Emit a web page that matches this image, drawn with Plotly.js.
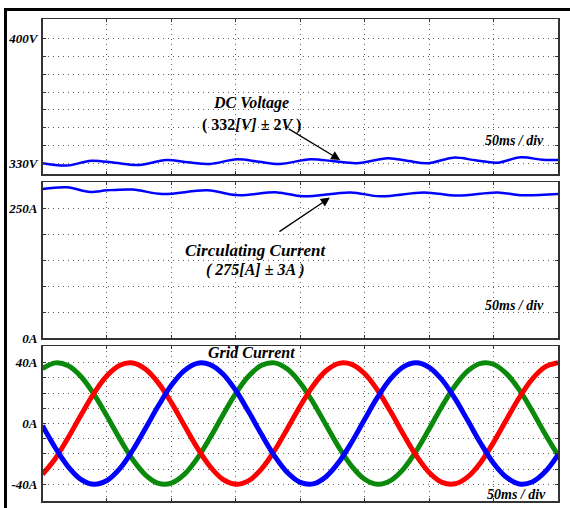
<!DOCTYPE html>
<html>
<head>
<meta charset="utf-8">
<script src="https://cdn.plot.ly/plotly-3.0.1.min.js"></script>
<style>html,body{margin:0;padding:0;background:#fff;}#chart{width:570px;height:508px;}</style>
</head>
<body>
<div id="chart"></div>
<script>
// ---- data ----
const dcTime = [0, 19, 38, 56, 75, 96, 113, 130, 151, 168, 184, 208, 226, 244, 268, 284, 299, 319, 336, 353, 371, 388, 400];
const dcVoltage = [330.4, 329.1, 331.8, 330.6, 329.4, 332.2, 330.9, 330.0, 332.6, 331.2, 330.0, 332.6, 331.5, 330.4, 333.2, 331.6, 330.4, 333.5, 332.0, 330.7, 333.7, 332.3, 332.2];

const ccTime = [0, 19, 37, 50, 70, 93, 128, 151, 182, 202, 239, 262, 296, 322, 353, 371, 400];
const ccCurrent = [286.7, 289.8, 280.9, 284.0, 285.4, 277.0, 284.0, 274.8, 280.0, 272.4, 280.0, 272.4, 280.0, 273.8, 280.0, 274.5, 277.0];

const gridTime = [0,10,20,30,40,50,60,70,80,90,100,110,120,130,140,150,160,170,180,190,200,210,220,230,240,250,260,270,280,290,300,310,320,330,340,350,360,370,380,390,400];
const phaseA = [-1.5,-16.1,-28.5,-36.9,-40.0,-37.5,-29.7,-17.6,-3.1,11.8,25.1,34.8,39.6,38.8,32.6,21.7,7.7,-7.3,-21.3,-32.3,-38.7,-39.7,-35.0,-25.4,-12.2,2.8,17.3,29.4,37.3,40.0,37.0,28.8,16.5,1.9,-13.0,-26.1,-35.4,-39.8,-38.5,-31.8,-20.6];
const phaseB = [-33.4,-23.0,-9.2,5.8,20.0,31.4,38.3,39.8,35.7,26.6,13.7,-1.2,-15.9,-28.3,-36.8,-40.0,-37.6,-29.8,-17.9,-3.4,11.5,24.9,34.7,39.6,38.9,32.7,21.9,8.0,-7.1,-21.1,-32.2,-38.7,-39.7,-35.1,-25.6,-12.4,2.5,17.1,29.2,37.2,40.0];
const phaseC = [36.1,39.9,38.0,30.8,19.2,4.9,-10.1,-23.7,-33.9,-39.4,-39.2,-33.5,-23.1,-9.4,5.6,19.8,31.2,38.3,39.9,35.8,26.7,13.8,-1.0,-15.7,-28.2,-36.7,-40.0,-37.6,-30.0,-18.1,-3.6,11.4,24.7,34.6,39.6,39.0,32.8,22.1,8.2,-6.9,-20.9];

const vTickVals = [330,340,350,360,370,380,390,400];
const vTickText = ['330V','','','','','','','400V'];
const cTickVals = [0,50,100,150,200,250];
const cTickText = ['0A','','','','','250A'];
const gTickVals = [-40,-30,-20,-10,0,10,20,30,40];
const gTickText = ['-40A','','','','0A','','','','40A'];
const timeGrid = [50,100,150,200,250,300,350];

// ---- styling ----
const serif = '"Liberation Serif"';
const tickFont = {family: serif, size: 13, color: '#000', weight: 'bold', style: 'italic'};
const xDom = [42.5/570, 558/570];
function yDom(top, bottom){ return [1 - bottom/508, 1 - top/508]; }
const gridDash = '1px,4px';

function xAxis(anchor){
  return {domain: xDom, range: [0,400], anchor: anchor, tickvals: timeGrid, showticklabels: false,
    showgrid: true, gridcolor: '#606060', griddash: gridDash, gridwidth: 1, zeroline: false,
    showline: true, mirror: 'ticks', linecolor: '#333', linewidth: 1.5,
    ticks: 'inside', ticklen: 3, tickcolor: '#333', tickwidth: 1, fixedrange: true};
}
function yAxis(anchor, dom, range, vals, text){
  return {domain: dom, range: range, anchor: anchor, tickvals: vals, ticktext: text, tickfont: tickFont,
    showgrid: true, gridcolor: '#606060', griddash: gridDash, gridwidth: 1, zeroline: false,
    showline: true, mirror: 'ticks', linecolor: '#333', linewidth: 1.5,
    ticks: 'inside', ticklen: 3, tickcolor: '#333', tickwidth: 1, ticklabelstandoff: 1, fixedrange: true};
}

const traces = [
  {x: dcTime, y: dcVoltage, xaxis: 'x', yaxis: 'y', mode: 'lines', line: {color: '#0000ff', width: 2.5, shape: 'spline'}},
  {x: ccTime, y: ccCurrent, xaxis: 'x2', yaxis: 'y2', mode: 'lines', line: {color: '#0000ff', width: 2.5, shape: 'spline'}},
  {x: gridTime, y: phaseC, xaxis: 'x3', yaxis: 'y3', mode: 'lines', line: {color: '#0a8a0a', width: 5, shape: 'spline'}},
  {x: gridTime, y: phaseB, xaxis: 'x3', yaxis: 'y3', mode: 'lines', line: {color: '#ff0000', width: 5, shape: 'spline'}},
  {x: gridTime, y: phaseA, xaxis: 'x3', yaxis: 'y3', mode: 'lines', line: {color: '#0000ff', width: 5, shape: 'spline'}}
];

const annFont = (s) => ({family: serif, size: s, color: '#000', weight: 'bold', style: 'italic'});
const annFontUp = (s) => ({family: serif, size: s, color: '#000', weight: 'bold'});

const annotations = [
  {xref: 'x', yref: 'y', x: 162, y: 364, text: 'DC Voltage', showarrow: false, font: annFont(16)},
  {xref: 'x', yref: 'y', x: 162, y: 351.7, text: '( 332<i>[V]</i> ± 2<i>V</i> )', showarrow: false, font: annFontUp(16)},
  {xref: 'x', yref: 'y', x: 231, y: 332.2, ax: -53, ay: -32, text: '', showarrow: true, arrowhead: 2, arrowsize: 1.4, arrowwidth: 1.3, arrowcolor: '#000'},
  {xref: 'x', yref: 'y', x: 391, y: 343.3, xanchor: 'right', text: '50ms / div', showarrow: false, font: annFont(14)},

  {xref: 'x2', yref: 'y2', x: 166, y: 169, text: 'Circulating Current', showarrow: false, font: annFont(17)},
  {xref: 'x2', yref: 'y2', x: 165, y: 131, text: '( 275[A] ± 3A )', showarrow: false, font: annFont(16)},
  {xref: 'x2', yref: 'y2', x: 223, y: 270, ax: -52, ay: 35, text: '', showarrow: true, arrowhead: 2, arrowsize: 1.4, arrowwidth: 1.3, arrowcolor: '#000'},
  {xref: 'x2', yref: 'y2', x: 391, y: 63, xanchor: 'right', text: '50ms / div', showarrow: false, font: annFont(14)},

  {xref: 'x3', yref: 'y3', x: 162, y: 46.4, text: 'Grid Current', showarrow: false, font: annFont(16)},
  {xref: 'x3', yref: 'y3', x: 392, y: -46.4, xanchor: 'right', text: '50ms / div', showarrow: false, font: annFont(14)}
];

const shapes = [
  {type: 'path', xref: 'paper', yref: 'paper', path: 'M ' + (5.5/570) + ' 0 L ' + (5.5/570) + ' ' + (1 - 9.5/508) + ' L 1 ' + (1 - 9.5/508), line: {color: '#000', width: 3}}
];

const layout = {
  width: 570, height: 508, margin: {l: 0, r: 0, t: 0, b: 0},
  paper_bgcolor: '#fff', plot_bgcolor: '#fff', showlegend: false,
  xaxis: xAxis('y'), xaxis2: xAxis('y2'), xaxis3: xAxis('y3'),
  yaxis: yAxis('x', yDom(19, 174), [324.4, 410.6], vTickVals, vTickText),
  yaxis2: yAxis('x2', yDom(182, 338), [0, 300], cTickVals, cTickText),
  yaxis3: yAxis('x3', yDom(346, 501), [-51, 51], gTickVals, gTickText),
  annotations: annotations, shapes: shapes
};

Plotly.newPlot('chart', traces, layout, {staticPlot: true, displayModeBar: false});
</script>
</body>
</html>
